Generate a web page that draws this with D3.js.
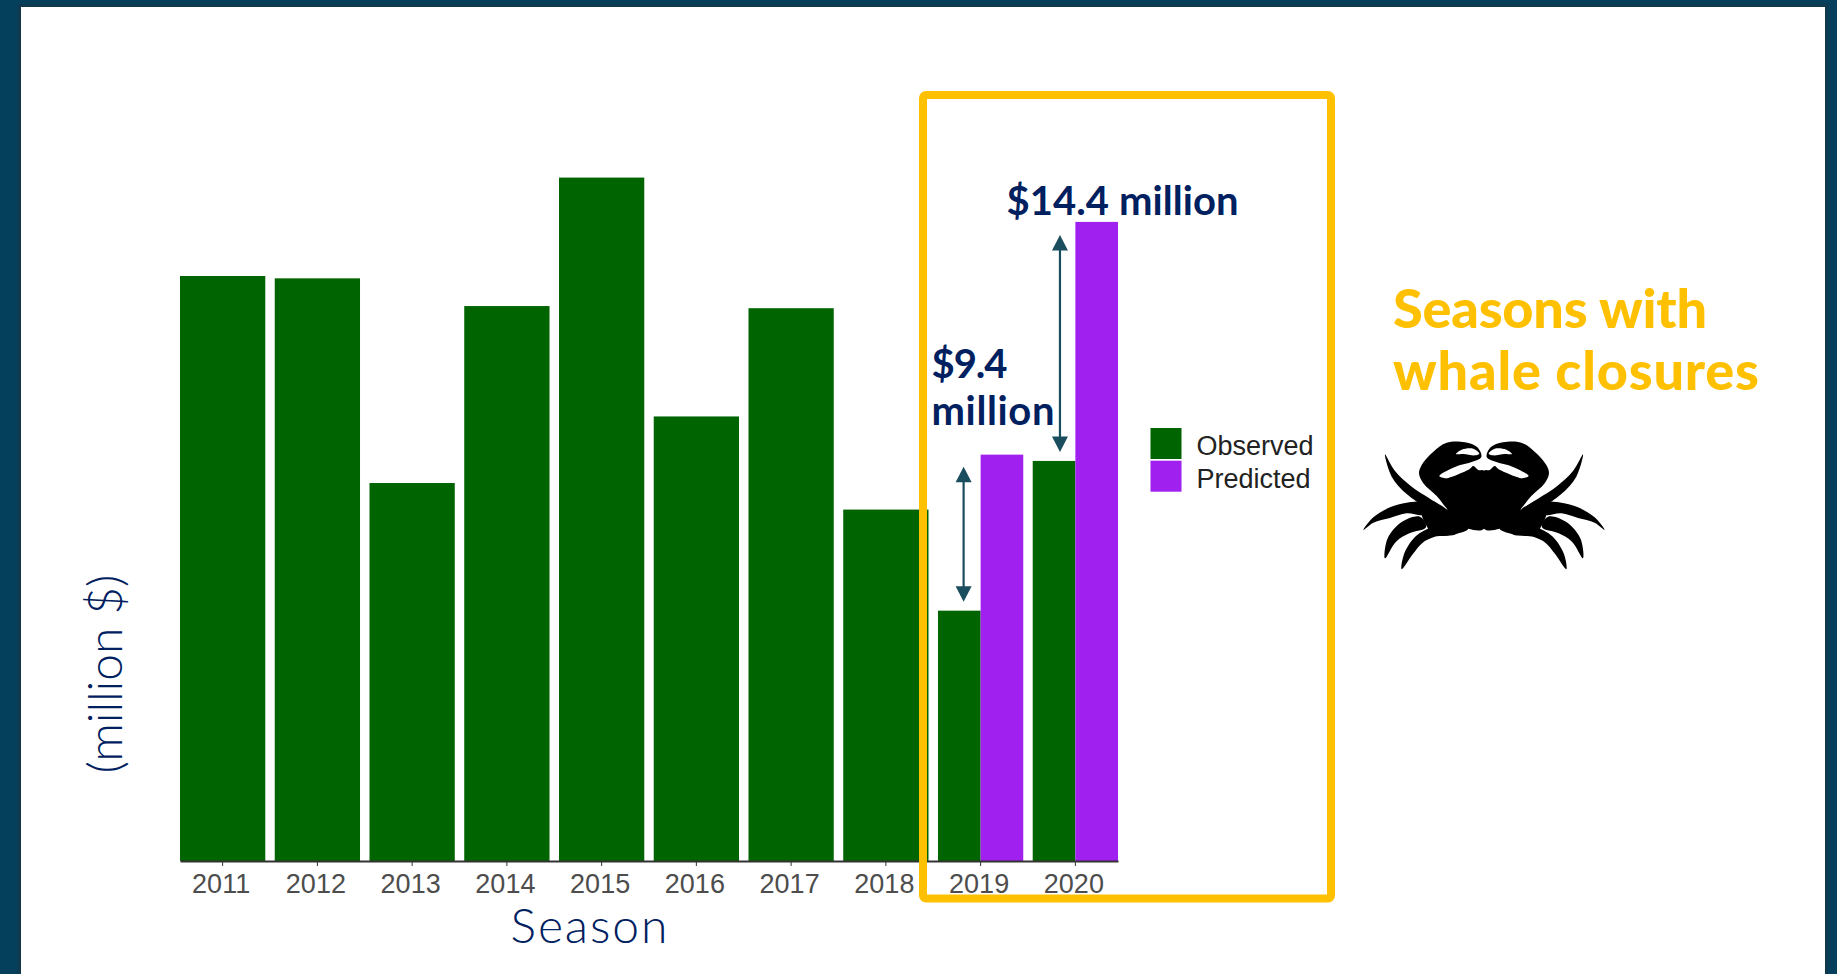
<!DOCTYPE html>
<html>
<head>
<meta charset="utf-8">
<script src="https://cdn.jsdelivr.net/npm/d3@7"></script>
<style>
  html, body { margin: 0; padding: 0; background: #04405c; overflow: hidden; }
  svg { display: block; }
</style>
</head>
<body>
<svg id="chart" width="1837" height="974"></svg>
<script>
// Dungeness crab revenue by season, in million dollars
const seasons = [2011, 2012, 2013, 2014, 2015, 2016, 2017, 2018, 2019, 2020];
const observed = [35.24, 35.1, 22.77, 33.43, 41.17, 26.78, 33.3, 21.17, 15.08, 24.1];
const predicted = [null, null, null, null, null, null, null, null, 24.48, 38.5];
const legendLabels = ["Observed", "Predicted"];
const legendColors = ["#006400", "#a020f0"];
const gapLabels = [
  { season: 2019, lines: ["$9.4", "million"] },
  { season: 2020, lines: ["$14.4 million"] }
];

const HEADING = "Lato, 'Open Sans', sans-serif";
const NAVY = "#002060";
const GOLD = "#ffc000";
const ARROW = "#1a4d5e";

const svg = d3.select("#chart");

// Slide panel with its darker inner edge
svg.append("rect").attr("width", 1837).attr("height", 974).attr("fill", "#04405c");
svg.append("rect").attr("x", 18).attr("y", 4).attr("width", 1810).attr("height", 970).attr("fill", "#10394e");
svg.append("rect").attr("x", 21).attr("y", 7).attr("width", 1804).attr("height", 967).attr("fill", "#ffffff");

// Scales
const baseY = 861;
const x = d3.scaleBand().domain(seasons).range([180, 1118]).paddingInner(0.1).paddingOuter(0);
const y = d3.scaleLinear().domain([0, 42]).range([baseY, baseY - 42 * 16.6]);
const color = d3.scaleOrdinal().domain(legendLabels).range(legendColors);

const rows = seasons.map((s, i) => ({ season: s, observed: observed[i], predicted: predicted[i] }));

// Full-width bars for closure-free seasons, side-by-side halves for the others
svg.append("g").selectAll("rect").data(rows).join("rect")
  .attr("x", d => x(d.season))
  .attr("y", d => y(d.observed))
  .attr("width", d => d.predicted === null ? x.bandwidth() : x.bandwidth() / 2)
  .attr("height", d => y(0) - y(d.observed))
  .attr("fill", color("Observed"));

svg.append("g").selectAll("rect").data(rows.filter(d => d.predicted !== null)).join("rect")
  .attr("x", d => x(d.season) + x.bandwidth() / 2)
  .attr("y", d => y(d.predicted))
  .attr("width", x.bandwidth() / 2)
  .attr("height", d => y(0) - y(d.predicted))
  .attr("fill", color("Predicted"));

// Season axis
const axis = svg.append("g")
  .attr("transform", `translate(0,${baseY})`)
  .call(d3.axisBottom(x).tickSizeInner(5).tickSizeOuter(0).tickPadding(8));
axis.select(".domain").attr("stroke", "#333333").attr("stroke-width", 2);
axis.selectAll(".tick line").attr("stroke", "#333333").attr("stroke-width", 1);
axis.selectAll(".tick text")
  .attr("dx", -1.5)
  .attr("font-family", "'Liberation Sans', Arial, sans-serif")
  .attr("font-size", 27)
  .attr("fill", "#4d4d4d");

// Axis titles
svg.append("text")
  .attr("x", 589).attr("y", 943)
  .attr("text-anchor", "middle")
  .attr("font-family", HEADING).attr("font-weight", 300).attr("font-size", 48)
  .attr("textLength", 157).attr("lengthAdjust", "spacing")
  .attr("fill", NAVY).text("Season");

svg.append("text")
  .attr("transform", "translate(122,674) rotate(-90)")
  .attr("text-anchor", "middle")
  .attr("font-family", HEADING).attr("font-weight", 300).attr("font-size", 48)
  .attr("textLength", 199).attr("lengthAdjust", "spacing")
  .attr("fill", NAVY).text("(million $)");

// Legend
const legend = svg.append("g").selectAll("g").data(legendLabels).join("g")
  .attr("transform", (d, i) => `translate(1150.5,${428 + i * 32.7})`);
legend.append("rect").attr("width", 31).attr("height", 31).attr("fill", d => color(d));
legend.append("text")
  .attr("x", 46).attr("y", 27)
  .attr("font-family", "'Liberation Sans', Arial, sans-serif")
  .attr("font-size", 27).attr("fill", "#222222")
  .text(d => d);

// Frame around the seasons with whale closures
svg.append("rect")
  .attr("x", 923).attr("y", 95).attr("width", 408).attr("height", 803.5).attr("rx", 3)
  .attr("fill", "none").attr("stroke", GOLD).attr("stroke-width", 8);

svg.append("g").selectAll("text").data(["Seasons with", "whale closures"]).join("text")
  .attr("x", 1393).attr("y", (d, i) => 328 + i * 62)
  .attr("font-family", HEADING).attr("font-weight", 900).attr("font-size", 54)
  .attr("textLength", (d, i) => i === 0 ? 314 : 366).attr("lengthAdjust", "spacing")
  .attr("fill", GOLD).text(d => d);

// Double-headed arrows spanning the gap between observed and predicted
const arrowRows = rows.filter(d => d.predicted !== null);
const arrowOffset = { 2019: -17, 2020: -15.4 };
const arrowInset = { 2019: 12, 2020: 13 };
const arrows = svg.append("g").selectAll("g").data(arrowRows).join("g")
  .attr("fill", ARROW).attr("stroke", ARROW);
arrows.each(function (d) {
  const g = d3.select(this);
  const cx = x(d.season) + x.bandwidth() / 2 + arrowOffset[d.season];
  const top = y(d.predicted) + arrowInset[d.season];
  const bottom = y(d.observed) - 9;
  g.append("line")
    .attr("x1", cx).attr("x2", cx).attr("y1", top + 8).attr("y2", bottom - 8)
    .attr("stroke-width", 2.2);
  g.append("path").attr("stroke", "none")
    .attr("d", `M${cx},${top}l8,15.5h-16z`);
  g.append("path").attr("stroke", "none")
    .attr("d", `M${cx},${bottom}l8,-15.5h-16z`);
});

// Gap labels
const gapText = svg.append("g")
  .attr("font-family", HEADING).attr("font-weight", 700).attr("font-size", 40).attr("fill", NAVY);
gapText.append("text").attr("x", 1006.5).attr("y", 215)
  .attr("textLength", 232).attr("lengthAdjust", "spacing")
  .text(gapLabels[1].lines[0]);
gapText.append("text").attr("x", 931.5).attr("y", 378)
  .attr("textLength", 76).attr("lengthAdjust", "spacing")
  .text(gapLabels[0].lines[0]);
gapText.append("text").attr("x", 931.5).attr("y", 425)
  .attr("textLength", 123).attr("lengthAdjust", "spacing")
  .text(gapLabels[0].lines[1]);

// Crab silhouette: one half outlined, then mirrored about its centre line
const claw = [[424,141],[412,112],[375,97],[320,98],[280,125],[245,165],[237,190],[250,220],[290,258],[328,298],[345,250],[340,205],[318,205],[298,198],[325,180],[358,166],[395,156]];
const clawSlit = [[348,132],[365,119],[400,116],[418,131],[405,136],[370,132]];
const shell = [[432,182],[415,180],[400,168],[388,178],[345,197],[320,207],[306,240],[322,300],[338,335],[385,356],[432,356]];
const backLeg = [[135,133],[165,183],[215,230],[270,266],[325,303],[332,324],[260,292],[200,252],[155,200]];
const leg1 = [[70,360],[100,322],[150,292],[200,278],[245,278],[250,314],[200,310],[150,324],[100,338]];
const leg2 = [[135,445],[143,385],[185,336],[240,320],[258,352],[208,370],[168,395]];
const leg3 = [[185,478],[193,430],[228,378],[275,352],[340,330],[350,370],[282,381],[248,398],[218,433]];
const hip = [[245,282],[300,296],[332,318],[385,356],[280,376],[262,352],[246,318]];

const outline = d3.line().curve(d3.curveCatmullRomClosed.alpha(0.5));
const crab = svg.append("g").attr("transform", "translate(1484,410) scale(0.3333)");
[1, -1].forEach(side => {
  const half = crab.append("g").attr("transform", `scale(${side},1) translate(-432,0)`);
  half.selectAll("path.part").data([claw, shell, backLeg, leg1, leg2, leg3, hip]).join("path")
    .attr("class", "part").attr("d", outline).attr("fill", "#000000");
  half.append("path").attr("d", outline(clawSlit)).attr("fill", "#ffffff");
});
</script>
</body>
</html>
